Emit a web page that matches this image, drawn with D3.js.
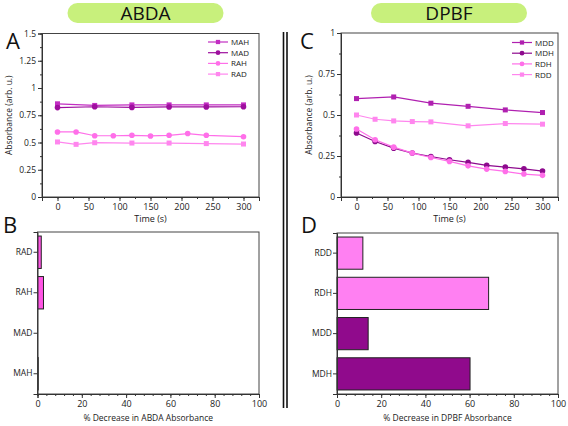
<!DOCTYPE html>
<html><head><meta charset="utf-8">
<script src="https://cdn.jsdelivr.net/npm/d3@7"></script>
<style>body{margin:0;background:#fff}svg{display:block;font-family:"Open Sans",sans-serif}</style>
</head><body>
<script>
// ---- data ----
const timesA6 = [0,60,120,180,240,300];
const timesA10 = [0,30,60,90,120,150,180,210,240,300];
const timesRAD = [0,30,60,120,180,240,300];
const MAH = [0.855,0.84,0.845,0.845,0.845,0.845];
const MAD = [0.82,0.828,0.822,0.826,0.826,0.828];
const RAH = [0.597,0.597,0.562,0.562,0.566,0.56,0.566,0.582,0.566,0.553];
const RAD = [0.505,0.483,0.498,0.495,0.495,0.49,0.486];

const timesMDD = [0,60,120,180,240,300];
const timesC11 = [0,30,60,90,120,150,180,210,240,270,300];
const timesRDD = [0,30,60,90,120,180,240,300];
const MDD = [0.6,0.61,0.572,0.553,0.531,0.515];
const MDH = [0.39,0.338,0.298,0.268,0.247,0.227,0.211,0.193,0.182,0.172,0.158];
const RDH = [0.415,0.349,0.304,0.268,0.241,0.217,0.19,0.17,0.156,0.14,0.132];
const RDD = [0.5,0.474,0.464,0.46,0.458,0.434,0.448,0.444];

const catsB = ["RAD","RAH","MAD","MAH"];
const valsB = [1.7,2.7,0,0.3];
const catsD = ["RDD","RDH","MDD","MDH"];
const valsD = [11.7,68.6,14.1,60.2];

const yTicksA = [0,0.25,0.5,0.75,1,1.25,1.5];
const yTicksC = [0,0.25,0.5,0.75,1];
const xTicksT = [0,50,100,150,200,250,300];
const xTicksPct = [0,20,40,60,80,100];

const colMAH="#c22ec2", colMAD="#9e0f9e", colRAH="#ff6fe9", colRAD="#ff86ee";
const colMDD="#b020b0", colMDH="#8e0a8e", colRDH="#ff6fe9", colRDD="#ff86ee";
const barPinkB="#ff55e4", barPinkD="#ff80f2", barPurple="#900a8c";

const W=568,H=426;
const svg=d3.select("body").append("svg").attr("width",W).attr("height",H);

// title pills
function pill(cx,label){
  svg.append("rect").attr("x",cx-78).attr("y",3).attr("width",156).attr("height",20).attr("rx",10).attr("fill","#c8f07c");
  svg.append("text").attr("x",cx).attr("y",20).attr("text-anchor","middle").attr("font-size",19).attr("fill","#111").text(label);
}
pill(145.5,"ABDA"); pill(449,"DPBF");

// separator
[283.5,287].forEach(x=>svg.append("line").attr("x1",x).attr("x2",x).attr("y1",32).attr("y2",408).attr("stroke","#111").attr("stroke-width",1.6));

// panel letters
[["A",6,49],["C",300,49],["B",3,233],["D",301,233]].forEach(([t,x,y])=>
  svg.append("text").attr("x",x).attr("y",y).attr("font-size",22).attr("fill","#111").text(t));

function frame(x0,x1,y0,y1){
  svg.append("rect").attr("x",x0).attr("y",y0).attr("width",x1-x0).attr("height",y1-y0).attr("fill","none").attr("stroke","#444").attr("stroke-width",1);
}
function styleAxis(g){
  g.selectAll("path").attr("stroke","#333");
  g.selectAll("line").attr("stroke","#333");
  g.selectAll("text").attr("font-size",8.5).attr("fill","#222").attr("font-family","Open Sans, sans-serif");
}

function linePanel(o){
  const x=d3.scaleLinear().domain([-25,325]).range([o.x0,o.x1]);
  const y=d3.scaleLinear().domain(o.ydom).range([o.y1,o.y0]);
  frame(o.x0,o.x1,o.y0,o.y1);
  // minor ticks
  const gy=svg.append("g").attr("transform",`translate(${o.x0},0)`);
  gy.call(d3.axisLeft(y).tickValues(d3.range(o.ydom[0],o.ydom[1]+0.001,0.125)).tickSize(2).tickFormat(""));
  gy.call(g=>g.select(".domain").remove());
  const gy2=svg.append("g").attr("transform",`translate(${o.x0},0)`);
  gy2.call(d3.axisLeft(y).tickValues(o.yticks).tickSize(4).tickPadding(2).tickFormat(d=>String(d)));
  styleAxis(gy); styleAxis(gy2);
  const gx=svg.append("g").attr("transform",`translate(0,${o.y1})`);
  gx.call(d3.axisBottom(x).tickValues(d3.range(-25,326,25)).tickSize(2).tickFormat(""));
  const gx2=svg.append("g").attr("transform",`translate(0,${o.y1})`);
  gx2.call(d3.axisBottom(x).tickValues(xTicksT).tickSize(4).tickPadding(3));
  styleAxis(gx); styleAxis(gx2);
  gx2.selectAll("text").attr("font-size",9);
  svg.append("text").attr("x",(o.x0+o.x1)/2).attr("y",o.y1+25).attr("text-anchor","middle").attr("font-size",9).attr("fill","#222").text("Time (s)");
  svg.append("text").attr("transform",`translate(${o.ylabX},${(o.y0+o.y1)/2}) rotate(-90)`).attr("text-anchor","middle").attr("font-size",8.5).attr("fill","#222").text("Absorbance (arb. u.)");
  const line=d3.line().x(d=>x(d[0])).y(d=>y(d[1]));
  o.series.forEach(s=>{
    const pts=s.t.map((t,i)=>[t,s.v[i]]);
    svg.append("path").datum(pts).attr("d",line).attr("fill","none").attr("stroke",s.c).attr("stroke-width",1.2);
    drawMarkers(pts.map(p=>[x(p[0]),y(p[1])]),s);
  });
  // legend
  o.series.forEach((s,i)=>{
    const ly=o.legY+i*10.7;
    svg.append("line").attr("x1",o.legX).attr("x2",o.legX+20).attr("y1",ly).attr("y2",ly).attr("stroke",s.c).attr("stroke-width",1.2);
    drawMarkers([[o.legX+10,ly]],s,0.85);
    svg.append("text").attr("x",o.legX+23).attr("y",ly+3).attr("font-size",8).attr("fill","#222").text(s.name);
  });
}
function drawMarkers(pts,s,k=1){
  pts.forEach(([px,py])=>{
    if(s.m==="sq") svg.append("rect").attr("x",px-2.5*k).attr("y",py-2.5*k).attr("width",5*k).attr("height",5*k).attr("fill",s.c);
    else svg.append("circle").attr("cx",px).attr("cy",py).attr("r",2.8*k).attr("fill",s.c);
  });
}

linePanel({x0:42,x1:259,y0:33.5,y1:197,ydom:[0,1.5],yticks:yTicksA,ylabX:12,legX:208,legY:42,
  series:[{name:"MAH",t:timesA6,v:MAH,c:colMAH,m:"sq"},{name:"MAD",t:timesA6,v:MAD,c:colMAD,m:"ci"},
          {name:"RAH",t:timesA10,v:RAH,c:colRAH,m:"ci"},{name:"RAD",t:timesRAD,v:RAD,c:colRAD,m:"sq"}]});
linePanel({x0:341,x1:558,y0:33,y1:197,ydom:[0,1],yticks:yTicksC,ylabX:312,legX:512,legY:42.5,
  series:[{name:"MDD",t:timesMDD,v:MDD,c:colMDD,m:"sq"},{name:"MDH",t:timesC11,v:MDH,c:colMDH,m:"ci"},
          {name:"RDH",t:timesC11,v:RDH,c:colRDH,m:"ci"},{name:"RDD",t:timesRDD,v:RDD,c:colRDD,m:"sq"}]});

function barPanel(o){
  const x=d3.scaleLinear().domain([0,100]).range([o.x0,o.x1]);
  const y=d3.scaleBand().domain(o.cats).range([o.y0,o.y1]).paddingInner(0.2).paddingOuter(0.1);
  o.cats.forEach((c,i)=>{
    svg.append("rect").attr("x",x(0)).attr("y",y(c)).attr("width",x(o.vals[i])-x(0)).attr("height",y.bandwidth())
      .attr("fill",o.cols[i]).attr("stroke","#222").attr("stroke-width",1);
  });
  frame(o.x0,o.x1,o.y0,o.y1);
  const gy=svg.append("g").attr("transform",`translate(${o.x0},0)`);
  gy.call(d3.axisLeft(y).tickSize(4).tickPadding(1));
  styleAxis(gy); gy.selectAll("text").attr("font-size",8.5);
  const gx=svg.append("g").attr("transform",`translate(0,${o.y1})`);
  gx.call(d3.axisBottom(x).tickValues(d3.range(0,101,4)).tickSize(2).tickFormat(""));
  const gx2=svg.append("g").attr("transform",`translate(0,${o.y1})`);
  gx2.call(d3.axisBottom(x).tickValues(xTicksPct).tickSize(4).tickPadding(3));
  styleAxis(gx); styleAxis(gx2); gx2.selectAll("text").attr("font-size",9);
  svg.append("text").attr("x",(o.x0+o.x1)/2).attr("y",o.y1+27).attr("text-anchor","middle").attr("font-size",8.5).attr("fill","#222").text(o.label);
}
barPanel({x0:37.5,x1:259,y0:232,y1:394,cats:catsB,vals:valsB,cols:[barPinkB,barPinkB,barPurple,"#222"],label:"% Decrease in ABDA Absorbance"});
barPanel({x0:337,x1:558,y0:233,y1:394,cats:catsD,vals:valsD,cols:[barPinkD,barPinkD,barPurple,barPurple],label:"% Decrease in DPBF Absorbance"});
</script>
</body></html>
